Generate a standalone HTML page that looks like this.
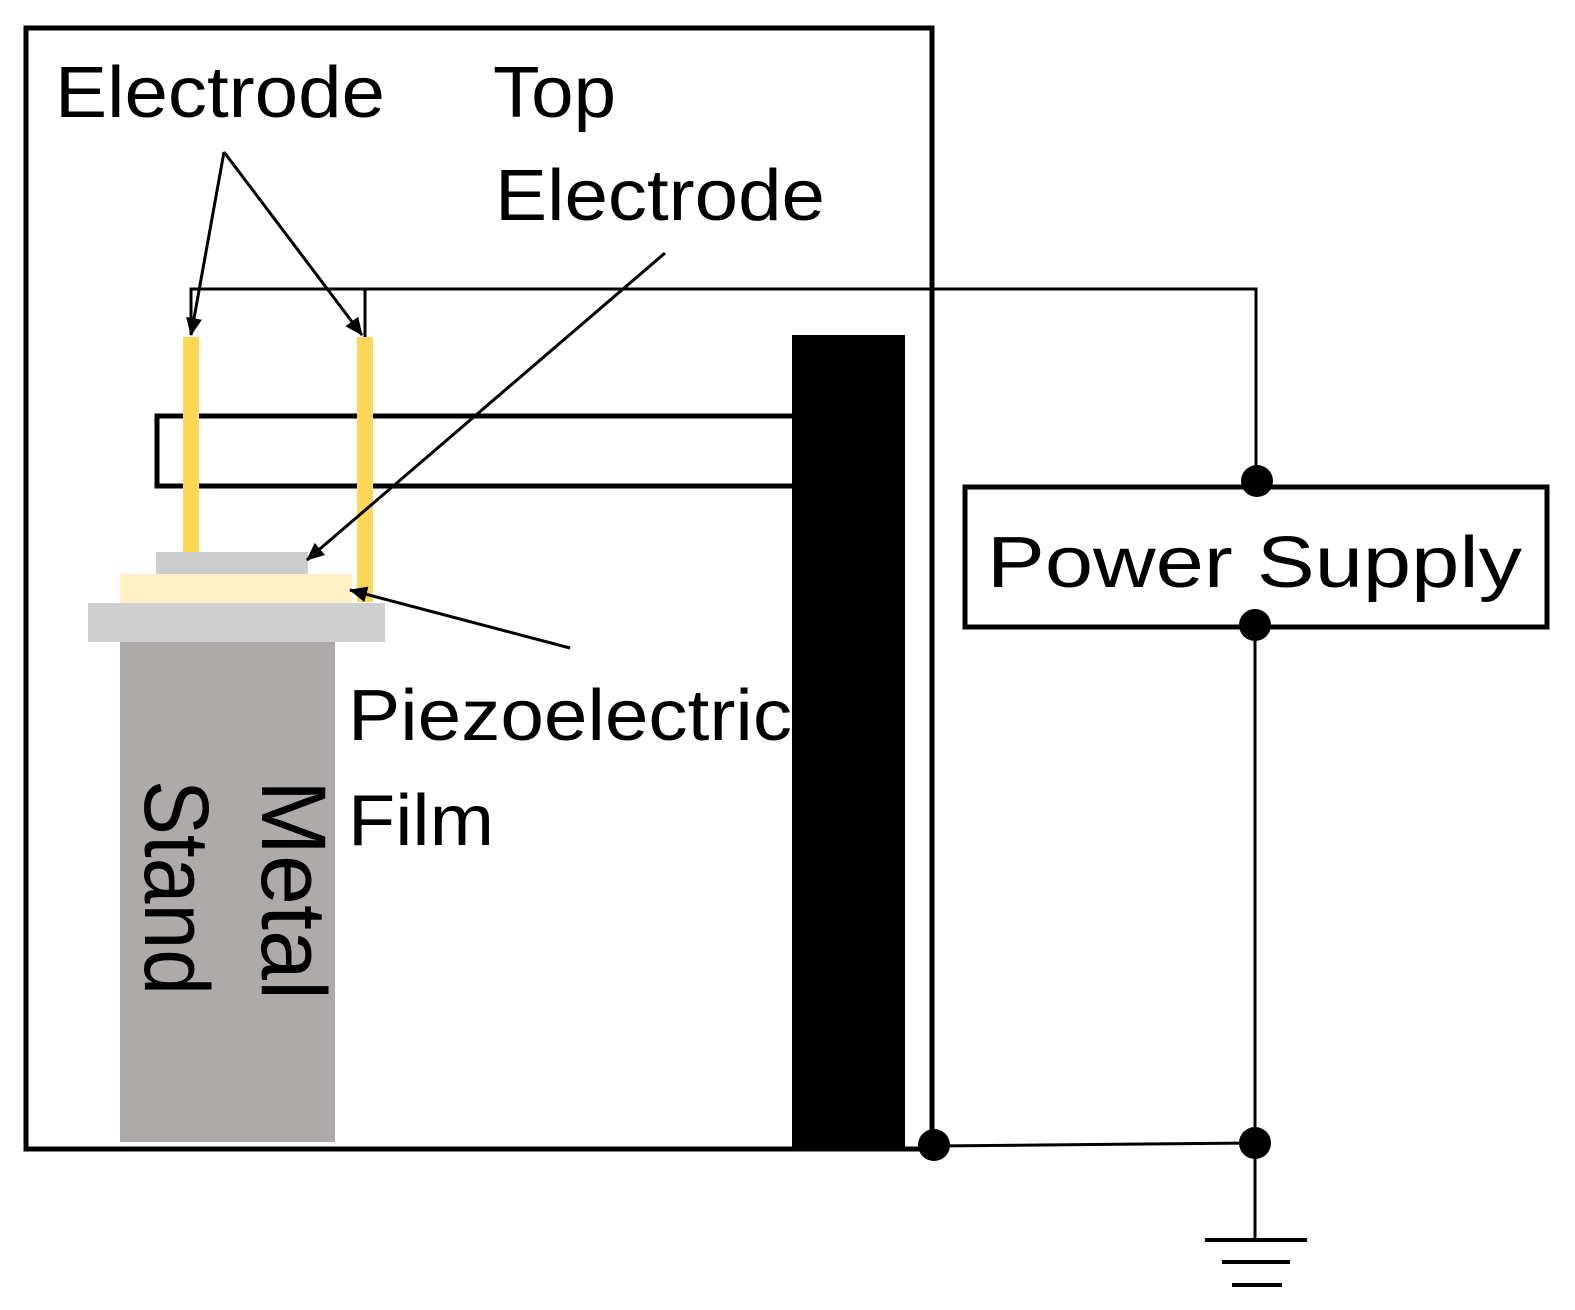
<!DOCTYPE html>
<html><head><meta charset="utf-8"><style>html,body{margin:0;padding:0;background:#fff}svg{display:block}</style></head>
<body>
<svg width="1575" height="1310" viewBox="0 0 1575 1310" xmlns="http://www.w3.org/2000/svg" font-family="Liberation Sans, sans-serif">
<defs>
<marker id="ah" markerWidth="18" markerHeight="18" refX="17" refY="9" orient="auto" markerUnits="userSpaceOnUse" viewBox="0 0 18 18">
<path d="M0,1 L18,9 L0,17 z" fill="#000"/></marker>
</defs>
<rect x="0" y="0" width="1575" height="1310" fill="#fff"/>
<rect x="120" y="642" width="215" height="500" fill="#AEAAAA"/>
<rect x="88" y="603" width="297" height="39" fill="#CFCFCF"/>
<rect x="120" y="574" width="232" height="29" fill="#FFF0C8"/>
<rect x="156" y="552" width="152" height="22" fill="#CCCCCC"/>
<rect x="157" y="416" width="640" height="70" fill="none" stroke="#000" stroke-width="5"/>
<rect x="183" y="337" width="16" height="215" fill="#FFD757"/>
<rect x="357" y="337" width="16" height="265" fill="#FFD757"/>
<rect x="792" y="335" width="113" height="815" fill="#000"/>
<rect x="26" y="28" width="906" height="1121" fill="none" stroke="#000" stroke-width="5"/>
<polyline points="191,335 191,289 1256,289 1256,480" fill="none" stroke="#000" stroke-width="3"/>
<line x1="365" y1="289" x2="365" y2="337" stroke="#000" stroke-width="3"/>
<line x1="1255" y1="625" x2="1255" y2="1240" stroke="#000" stroke-width="3"/>
<line x1="934" y1="1146" x2="1255" y2="1143" stroke="#000" stroke-width="3"/>
<line x1="1205" y1="1240" x2="1307" y2="1240" stroke="#000" stroke-width="4"/>
<line x1="1222" y1="1262" x2="1290" y2="1262" stroke="#000" stroke-width="4"/>
<line x1="1232" y1="1285" x2="1282" y2="1285" stroke="#000" stroke-width="4"/>
<rect x="965" y="487" width="582" height="140" fill="#fff" stroke="#000" stroke-width="5"/>
<circle cx="1257" cy="481" r="16" fill="#000"/>
<circle cx="1255" cy="625" r="16" fill="#000"/>
<circle cx="1255" cy="1143" r="16" fill="#000"/>
<circle cx="934" cy="1145" r="16" fill="#000"/>
<g stroke="#000" stroke-width="3" fill="none">
<line x1="224" y1="152" x2="191" y2="335" marker-end="url(#ah)"/>
<line x1="224" y1="152" x2="362" y2="335" marker-end="url(#ah)"/>
<line x1="665" y1="253" x2="307" y2="560" marker-end="url(#ah)"/>
<line x1="570" y1="648" x2="350" y2="590" marker-end="url(#ah)"/>
</g>
<g fill="#000" font-size="72">
<text x="55" y="117" textLength="330" lengthAdjust="spacingAndGlyphs">Electrode</text>
<text x="493" y="117" textLength="123" lengthAdjust="spacingAndGlyphs">Top</text>
<text x="495" y="220" textLength="330" lengthAdjust="spacingAndGlyphs">Electrode</text>
<text x="987" y="587" textLength="535" lengthAdjust="spacingAndGlyphs">Power Supply</text>
<text x="348" y="740" textLength="444" lengthAdjust="spacingAndGlyphs">Piezoelectric</text>
<text x="348" y="845" textLength="146" lengthAdjust="spacingAndGlyphs">Film</text>
<text transform="translate(262,780) rotate(90)" font-size="92" textLength="220" lengthAdjust="spacingAndGlyphs">Metal</text>
<text transform="translate(145,780) rotate(90)" font-size="92" textLength="215" lengthAdjust="spacingAndGlyphs">Stand</text>
</g>
</svg>
</body></html>
